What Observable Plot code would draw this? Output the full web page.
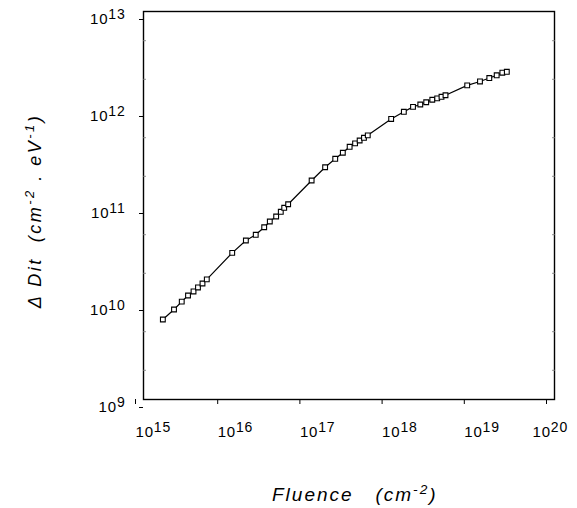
<!DOCTYPE html>
<html><head><meta charset="utf-8">
<script src="https://cdn.jsdelivr.net/npm/d3@7"></script>
<script src="https://cdn.jsdelivr.net/npm/@observablehq/plot@0.6"></script>
<style>body{margin:0;background:#fff}</style>
</head><body><div id="chart"></div>
<script>
// Fluence (cm^-2)
const fluence = [1.72e15, 2.35e15, 2.92e15, 3.48e15, 4.06e15, 4.60e15, 5.22e15, 5.89e15,
  1.20e16, 1.76e16, 2.32e16, 2.94e16, 3.44e16, 4.11e16, 4.68e16, 5.15e16, 5.75e16,
  1.11e17, 1.62e17, 2.15e17, 2.66e17, 3.22e17, 3.75e17, 4.26e17, 4.81e17, 5.35e17,
  1.03e18, 1.47e18, 1.90e18, 2.33e18, 2.75e18, 3.26e18, 3.74e18, 4.22e18, 4.72e18,
  8.67e18, 1.24e19, 1.61e19, 1.98e19, 2.32e19, 2.63e19];
// Delta Dit (cm^-2 eV^-1)
const deltaDit = [6.68e9, 8.47e9, 1.02e10, 1.18e10, 1.30e10, 1.43e10, 1.57e10, 1.73e10,
  3.25e10, 4.36e10, 4.99e10, 5.97e10, 6.84e10, 7.70e10, 8.61e10, 9.47e10, 1.03e11,
  1.81e11, 2.48e11, 3.03e11, 3.50e11, 4.03e11, 4.37e11, 4.68e11, 4.99e11, 5.29e11,
  7.80e11, 9.25e11, 1.04e12, 1.10e12, 1.16e12, 1.23e12, 1.27e12, 1.32e12, 1.37e12,
  1.73e12, 1.90e12, 2.06e12, 2.20e12, 2.34e12, 2.39e12];
const xTicks = [1e15, 1e16, 1e17, 1e18, 1e19, 1e20];
const yTicks = [1e9, 1e10, 1e11, 1e12, 1e13];
const yMinorTicks = [2e9, 5e9, 2e10, 5e10, 2e11, 5e11, 2e12, 5e12];
const xTickLabels = ["10^15", "10^16", "10^17", "10^18", "10^19", "10^20"];
const yTickLabels = ["10^9", "10^10", "10^11", "10^12", "10^13"];
const xTitle = [["Fluence   (cm", false], ["-2", true], [")", false]];
const yTitle = [["\u0394 Dit  (cm", false], ["-2", true], [" . eV", false], ["-1", true], [")", false]];

const data = fluence.map((f, i) => ({f, d: deltaDit[i]}));
const font = "'Liberation Sans', Arial, Helvetica, sans-serif";

const plot = Plot.plot({
  width: 577, height: 508,
  marginLeft: 143, marginRight: 23, marginTop: 11, marginBottom: 109,
  style: {fontFamily: font, background: "#fff", color: "#000", overflow: "visible"},
  x: {type: "log", domain: [1e15, 1e20]},
  y: {type: "log", domain: [1e9, 1e13]},
  marks: [
    Plot.frame({stroke: "#000", strokeWidth: 1.4}),
    Plot.axisY({ticks: yMinorTicks, anchor: "left", tickSize: -3, tickFormat: () => "", label: null, stroke: "#777", strokeWidth: 0.8}),
    Plot.axisY({ticks: yMinorTicks, anchor: "right", tickSize: -3, tickFormat: () => "", label: null, stroke: "#777", strokeWidth: 0.8}),
    Plot.axisX({ticks: xTicks, tickSize: 5, tickFormat: d => xTickLabels[xTicks.indexOf(d)],
      textAnchor: "start", dx: -8, tickPadding: 22, fontSize: 15, label: null}),
    Plot.axisY({ticks: yTicks, tickSize: 4, tickFormat: d => yTickLabels[yTicks.indexOf(d)],
      tickPadding: 14, dy: 8, fontSize: 15, label: null}),
    Plot.line(data, {x: "f", y: "d", stroke: "#000", strokeWidth: 1.2}),
    Plot.dot(data, {x: "f", y: "d", symbol: "square", r: 2.7, stroke: "#000", fill: "#fff", strokeWidth: 1.1})
  ]
});
document.getElementById("chart").appendChild(plot);

const svg = d3.select(plot);
// superscript tick labels
svg.selectAll("text").each(function() {
  const t = d3.select(this);
  const s = t.text();
  if (!s.includes("^")) return;
  const [b, e] = s.split("^");
  t.text(null).attr("letter-spacing", 0.8);
  t.append("tspan").text(b).attr("font-size", 15);
  t.append("tspan").text(e).attr("font-size", 14).attr("dy", "-5");
  if (s === "10^20") t.attr("dx", -14);
});
function title(parts, sel) {
  parts.forEach(([s, sup], i) => {
    const ts = sel.append("tspan").text(s);
    if (sup) ts.attr("dy", -7).attr("font-size", "0.72em");
    else if (i > 0 && parts[i - 1][1]) ts.attr("dy", 7);
  });
}
title(xTitle, svg.append("text").attr("x", 272).attr("y", 501)
  .attr("text-anchor", "start").style("white-space", "pre")
  .attr("font-family", font).attr("font-style", "italic").attr("font-size", 19)
  .attr("letter-spacing", 2).attr("fill", "#000"));
title(yTitle, svg.append("text").attr("transform", "translate(41,211) rotate(-90)")
  .attr("text-anchor", "middle").style("white-space", "pre")
  .attr("font-family", font).attr("font-style", "italic").attr("font-size", 18)
  .attr("letter-spacing", 2.5).attr("fill", "#000"));
</script>
</body></html>
